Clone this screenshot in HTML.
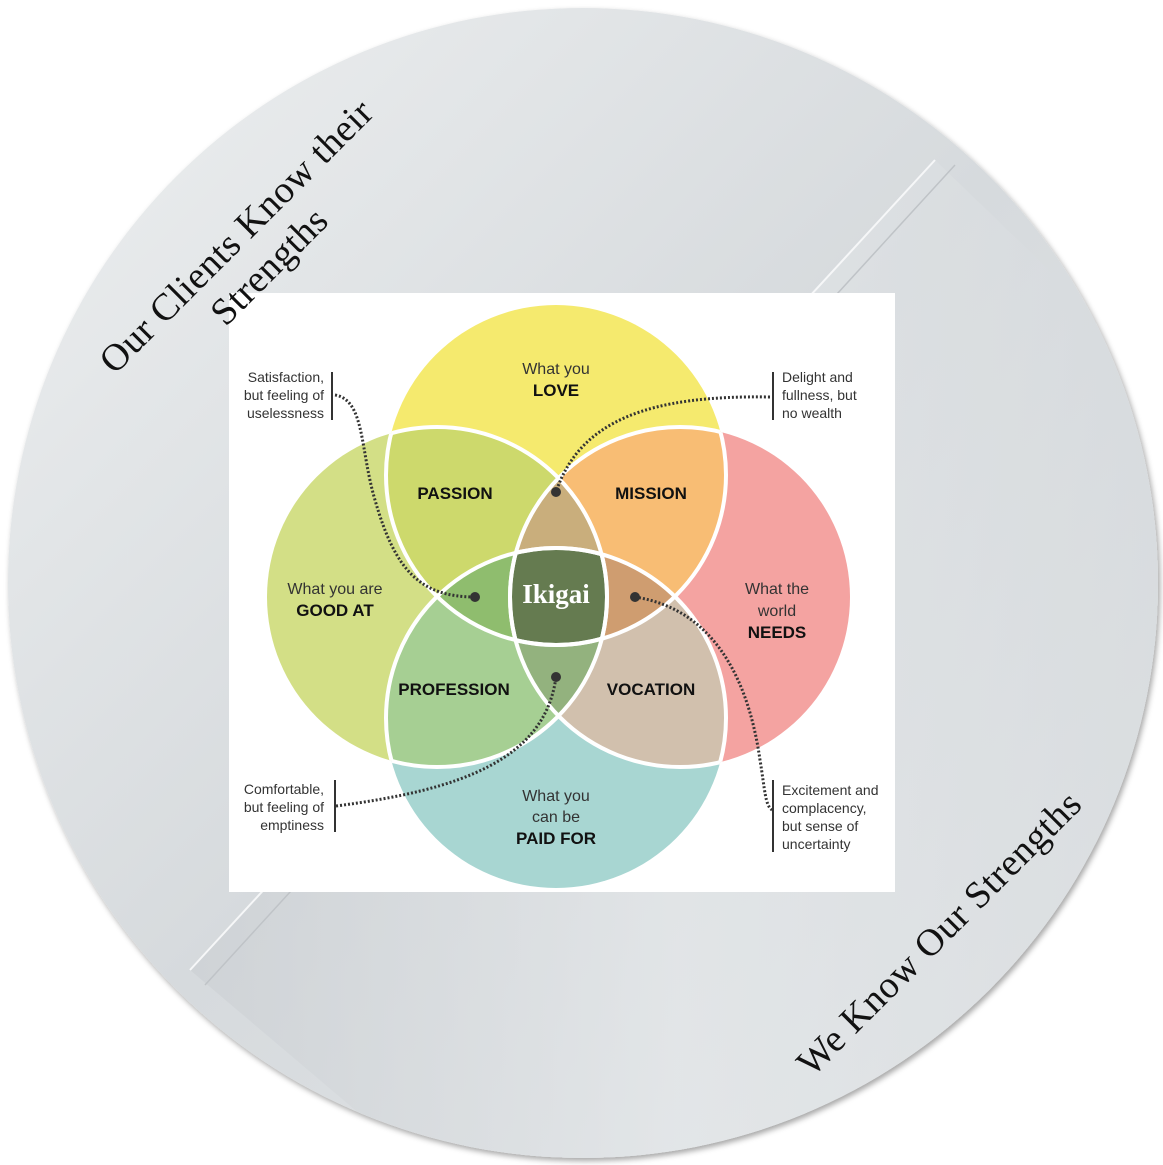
<!DOCTYPE html>
<html><head><meta charset="utf-8"><style>
html,body{margin:0;padding:0;background:#fff;width:1163px;height:1165px;overflow:hidden}
svg{display:block}
.s{font-family:"Liberation Sans",sans-serif;font-size:16px;fill:#333;}
.b{font-family:"Liberation Sans",sans-serif;font-size:17px;font-weight:bold;fill:#111;}
.m{font-family:"Liberation Sans",sans-serif;font-size:14px;fill:#333;}
.t{font-family:"Liberation Serif",serif;font-size:38px;fill:#111;letter-spacing:0.5px;}
</style></head><body>
<svg width="1163" height="1165" viewBox="0 0 1163 1165" xmlns="http://www.w3.org/2000/svg">
<defs>
<linearGradient id="bg" x1="0" y1="0" x2="1" y2="1">
<stop offset="0" stop-color="#eef0f1"/><stop offset="0.5" stop-color="#d6dadd"/><stop offset="1" stop-color="#e4e7e9"/>
</linearGradient>
<linearGradient id="fold" x1="0" y1="0" x2="1" y2="0">
<stop offset="0" stop-color="#c9cdd1"/><stop offset="0.5" stop-color="#e6e9eb"/><stop offset="1" stop-color="#d5d9dc"/>
</linearGradient>
<clipPath id="disc"><circle cx="583" cy="583" r="575"/></clipPath>
<clipPath id="cT"><circle cx="556" cy="475" r="170"/></clipPath>
<clipPath id="cB"><circle cx="556" cy="718" r="170"/></clipPath>
<clipPath id="cL"><circle cx="437" cy="597" r="170"/></clipPath>
<clipPath id="cR"><circle cx="680" cy="597" r="170"/></clipPath>
<filter id="sh" x="-5%" y="-5%" width="110%" height="110%"><feDropShadow dx="2" dy="3" stdDeviation="3" flood-color="#000" flood-opacity="0.35"/></filter>
</defs>
<circle cx="583" cy="583" r="575" fill="url(#bg)" filter="url(#sh)"/>
<g clip-path="url(#disc)">
<polygon points="935,160 1163,380 1163,1165 420,1165 190,970" fill="url(#fold)" opacity="0.55"/>
<line x1="935" y1="160" x2="190" y2="970" stroke="#f6f7f8" stroke-width="2"/>
<line x1="955" y1="165" x2="205" y2="985" stroke="#bfc3c7" stroke-width="1.5"/>
</g>
<rect x="229" y="293" width="666" height="599" fill="#fff"/>
<circle cx="437" cy="597" r="170" fill="#d3df86"/>
<circle cx="680" cy="597" r="170" fill="#f4a3a1"/>
<circle cx="556" cy="718" r="170" fill="#a8d6d2"/>
<circle cx="556" cy="475" r="170" fill="#f5ea6e"/>
<g clip-path="url(#cT)"><rect x="0" y="0" width="1163" height="1165" fill="#cdd96c" clip-path="url(#cL)"/></g>
<g clip-path="url(#cT)"><rect x="0" y="0" width="1163" height="1165" fill="#f8bd74" clip-path="url(#cR)"/></g>
<g clip-path="url(#cB)"><rect x="0" y="0" width="1163" height="1165" fill="#a6cf93" clip-path="url(#cL)"/></g>
<g clip-path="url(#cB)"><rect x="0" y="0" width="1163" height="1165" fill="#d1c0ad" clip-path="url(#cR)"/></g>
<g clip-path="url(#cT)"><g clip-path="url(#cL)"><rect x="0" y="0" width="1163" height="1165" fill="#c9ae7c" clip-path="url(#cR)"/></g></g>
<g clip-path="url(#cT)"><g clip-path="url(#cL)"><rect x="0" y="0" width="1163" height="1165" fill="#8fbd6e" clip-path="url(#cB)"/></g></g>
<g clip-path="url(#cT)"><g clip-path="url(#cR)"><rect x="0" y="0" width="1163" height="1165" fill="#cf9d70" clip-path="url(#cB)"/></g></g>
<g clip-path="url(#cB)"><g clip-path="url(#cL)"><rect x="0" y="0" width="1163" height="1165" fill="#93b27e" clip-path="url(#cR)"/></g></g>
<g clip-path="url(#cT)"><g clip-path="url(#cB)"><g clip-path="url(#cL)"><rect x="0" y="0" width="1163" height="1165" fill="#657b50" clip-path="url(#cR)"/></g></g></g>
<g fill="none" stroke="#fff" stroke-width="4">
<circle cx="556" cy="475" r="170" clip-path="url(#cL)"/><circle cx="556" cy="475" r="170" clip-path="url(#cR)"/>
<circle cx="556" cy="718" r="170" clip-path="url(#cL)"/><circle cx="556" cy="718" r="170" clip-path="url(#cR)"/>
<circle cx="437" cy="597" r="170" clip-path="url(#cT)"/><circle cx="437" cy="597" r="170" clip-path="url(#cB)"/>
<circle cx="680" cy="597" r="170" clip-path="url(#cT)"/><circle cx="680" cy="597" r="170" clip-path="url(#cB)"/>
</g>
<g fill="none" stroke="#333" stroke-width="3" stroke-dasharray="2 2">
<path d="M335,395 C365,400 360,450 375,500 C395,570 420,597 475,597"/>
<path d="M770,397 C650,395 580,420 556,492"/>
<path d="M336,806 C460,790 545,760 556,677"/>
<path d="M635,597 C720,610 750,690 760,760 C765,790 765,805 772,810"/>
</g>
<g fill="#333"><circle cx="475" cy="597" r="5"/><circle cx="556" cy="492" r="5"/><circle cx="556" cy="677" r="5"/><circle cx="635" cy="597" r="5"/></g>
<g stroke="#333" stroke-width="2">
<line x1="332" y1="372" x2="332" y2="420"/><line x1="773" y1="372" x2="773" y2="420"/>
<line x1="335" y1="780" x2="335" y2="832"/><line x1="773" y1="780" x2="773" y2="852"/>
</g>
<g class="s" text-anchor="middle">
<text x="556" y="374">What you</text>
<text x="335" y="594">What you are</text>
<text x="777" y="594">What the</text><text x="777" y="616">world</text>
<text x="556" y="801">What you</text><text x="556" y="822">can be</text>
</g>
<g class="b" text-anchor="middle">
<text x="556" y="396">LOVE</text>
<text x="335" y="616">GOOD AT</text>
<text x="777" y="638">NEEDS</text>
<text x="556" y="844">PAID FOR</text>
<text x="455" y="499">PASSION</text>
<text x="651" y="499">MISSION</text>
<text x="454" y="695">PROFESSION</text>
<text x="651" y="695">VOCATION</text>
</g>
<text x="556" y="603" text-anchor="middle" font-family="Liberation Serif,serif" font-weight="bold" font-size="27" fill="#fff">Ikigai</text>
<g class="m" text-anchor="end">
<text x="324" y="382">Satisfaction,</text><text x="324" y="400">but feeling of</text><text x="324" y="418">uselessness</text>
<text x="324" y="794">Comfortable,</text><text x="324" y="812">but feeling of</text><text x="324" y="830">emptiness</text>
</g>
<g class="m">
<text x="782" y="382">Delight and</text><text x="782" y="400">fullness, but</text><text x="782" y="418">no wealth</text>
<text x="782" y="795">Excitement and</text><text x="782" y="813">complacency,</text><text x="782" y="831">but sense of</text><text x="782" y="849">uncertainty</text>
</g>
<g class="t" text-anchor="middle">
<text transform="translate(245,245) rotate(-45)">Our Clients Know their</text>
<text transform="translate(278,275) rotate(-45)">Strengths</text>
<text transform="translate(948,942) rotate(-45)">We Know Our Strengths</text>
</g>
</svg>
</body></html>
